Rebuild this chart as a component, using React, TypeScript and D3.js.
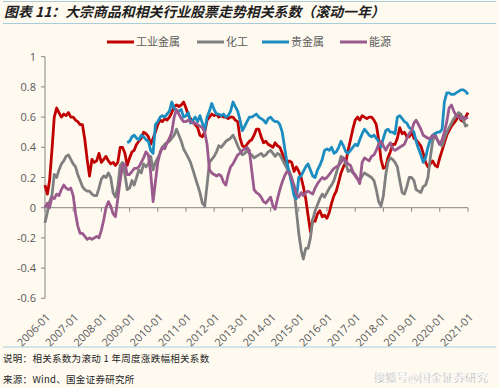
import * as d3 from 'd3';

// monthly readings, first point 2006-01
const START = new Date(2006, 0, 1);
const END = new Date(2021, 0, 1);

const metals = [
  0.15, 0.09, 0.18, 0.38, 0.6, 0.66, 0.63, 0.6, 0.62, 0.61, 0.63, 0.6,
  0.6, 0.58, 0.57, 0.55, 0.55, 0.45, 0.32, 0.21, 0.32, 0.3, 0.31, 0.36,
  0.3, 0.32, 0.34, 0.31, 0.29, 0.3, 0.28, 0.3, 0.4, 0.4, 0.36, 0.28,
  0.33, 0.37, 0.38, 0.42, 0.44, 0.46, 0.5, 0.49, 0.47, 0.42, 0.46, 0.5,
  0.55, 0.58, 0.57, 0.59, 0.58, 0.6, 0.63, 0.67, 0.68, 0.67, 0.68, 0.7,
  0.66, 0.61, 0.59, 0.57, 0.55, 0.53, 0.48, 0.47, 0.5, 0.58, 0.6, 0.62,
  0.61, 0.62, 0.6, 0.61, 0.6, 0.6, 0.59, 0.6, 0.6, 0.58, 0.57, 0.46,
  0.41, 0.4, 0.42, 0.44, 0.45, 0.48, 0.52, 0.52, 0.47, 0.43, 0.44, 0.42,
  0.41, 0.4, 0.43, 0.41, 0.4, 0.36, 0.32, 0.29, 0.31, 0.3, 0.24, 0.27,
  0.24, 0.2, 0.14, 0.06, -0.05, -0.16, -0.08, -0.09, -0.04, -0.02, -0.06, -0.05,
  -0.07, -0.03, 0.03, 0.08, 0.11, 0.17, 0.23, 0.27, 0.3, 0.38, 0.45, 0.52,
  0.58, 0.6, 0.58, 0.61, 0.6, 0.59, 0.6, 0.6, 0.58, 0.55, 0.45, 0.32,
  0.26, 0.27, 0.33, 0.37, 0.42, 0.42, 0.46, 0.53, 0.49, 0.5, 0.47, 0.47,
  0.5, 0.46, 0.45, 0.43, 0.41, 0.36, 0.3, 0.27, 0.29, 0.31, 0.28, 0.27,
  0.33, 0.38, 0.43, 0.48, 0.51, 0.54, 0.56, 0.58, 0.61, 0.58, 0.57, 0.6, 0.63,
];

const chemicals = [
  -0.1, -0.03, 0.04, 0.08, 0.22, 0.2, 0.25, 0.29, 0.31, 0.34, 0.35, 0.32,
  0.29, 0.27, 0.22, 0.18, 0.14, 0.12, 0.11, 0.11, 0.09, 0.08, 0.08, 0.13,
  0.19, 0.21, 0.2, 0.23, 0.2, 0.1, 0.07, 0.14, 0.28, 0.3, 0.22, 0.12,
  0.13, 0.18, 0.15, 0.2, 0.25, 0.23, 0.29, 0.27, 0.29, 0.34, 0.25, 0.3,
  0.33, 0.36, 0.4, 0.42, 0.43, 0.44, 0.46, 0.48, 0.52, 0.48, 0.44, 0.39,
  0.36, 0.33, 0.3, 0.25, 0.2, 0.15, 0.1, 0.03, 0.01, 0.15, 0.3, 0.32,
  0.34, 0.37, 0.41, 0.4, 0.42, 0.44, 0.45, 0.46, 0.48, 0.45, 0.41, 0.38,
  0.35, 0.36, 0.38, 0.36, 0.35, 0.33, 0.34, 0.35, 0.36, 0.34, 0.35, 0.37,
  0.38, 0.36, 0.34, 0.36, 0.35, 0.32, 0.29, 0.26, 0.24, 0.2, 0.12, -0.02,
  -0.17, -0.28, -0.34, -0.27, -0.27, -0.2, -0.08, -0.02, 0.02, 0.06, 0.09, 0.07,
  0.1, 0.13, 0.15, 0.18, 0.23, 0.28, 0.34, 0.33, 0.29, 0.24, 0.25, 0.23,
  0.22, 0.19, 0.18, 0.21, 0.23, 0.22, 0.21, 0.2, 0.18, 0.12, 0.04, 0.01,
  0.08, 0.22, 0.3, 0.33, 0.32, 0.3, 0.27, 0.18, 0.1, 0.09, 0.14, 0.2,
  0.2, 0.18, 0.12, 0.11, 0.1, 0.14, 0.15, 0.2, 0.33, 0.44, 0.49, 0.45,
  0.42, 0.41, 0.46, 0.5, 0.53, 0.56, 0.59, 0.61, 0.63, 0.62, 0.58, 0.54, 0.55,
];

// precious metals series begins later (index 35 = 2008-12)
const PRECIOUS_OFFSET = 35;
const precious = [
  0.43,
  0.44, 0.47, 0.48, 0.46, 0.45, 0.48, 0.47, 0.45, 0.44, 0.38, 0.36, 0.55,
  0.57, 0.6, 0.61, 0.6, 0.62, 0.64, 0.7, 0.66, 0.64, 0.64, 0.65, 0.6,
  0.61, 0.63, 0.56, 0.58, 0.6, 0.57, 0.61, 0.56, 0.51, 0.6, 0.64, 0.69,
  0.65, 0.62, 0.62, 0.61, 0.62, 0.6, 0.61, 0.64, 0.7, 0.67, 0.64, 0.58,
  0.51, 0.54, 0.57, 0.6, 0.6, 0.61, 0.62, 0.6, 0.59, 0.58, 0.56, 0.59,
  0.6, 0.58, 0.57, 0.57, 0.55, 0.5, 0.4, 0.3, 0.23, 0.16, 0.08, 0.06,
  0.2, 0.21, 0.24, 0.27, 0.29, 0.25, 0.21, 0.2, 0.25, 0.28, 0.32, 0.38,
  0.39, 0.38, 0.4, 0.36, 0.37, 0.4, 0.44, 0.41, 0.37, 0.36, 0.38, 0.4,
  0.42, 0.41, 0.45, 0.49, 0.52, 0.5, 0.48, 0.47, 0.48, 0.46, 0.44, 0.4,
  0.46, 0.51, 0.52, 0.5, 0.5, 0.49, 0.6, 0.61, 0.59, 0.57, 0.56, 0.53,
  0.52, 0.5, 0.44, 0.39, 0.35, 0.3, 0.33, 0.4, 0.45, 0.48, 0.49, 0.5,
  0.5, 0.52, 0.7, 0.76, 0.76, 0.75, 0.75, 0.76, 0.77, 0.78, 0.78, 0.77, 0.75,
];

const energy = [
  0.0, 0.03, 0.0, 0.07, 0.06, 0.09, 0.08, 0.12, 0.15, 0.13, 0.12, 0.13,
  0.08, -0.04, -0.12, -0.17, -0.17, -0.19, -0.21, -0.2, -0.21, -0.2, -0.19, -0.2,
  -0.15, -0.08, 0.0, 0.04, 0.01, -0.04, -0.06, 0.06, 0.18, 0.28, 0.29, 0.22,
  0.22, 0.24, 0.26, 0.26, 0.27, 0.3, 0.33, 0.37, 0.35, 0.23, 0.04, 0.17,
  0.3, 0.37, 0.4, 0.39, 0.43, 0.46, 0.5, 0.6, 0.65, 0.62, 0.59, 0.57,
  0.57, 0.58, 0.57, 0.56, 0.56, 0.55, 0.54, 0.53, 0.5, 0.42, 0.25, 0.23,
  0.22, 0.21, 0.22, 0.21, 0.17, 0.15, 0.22, 0.27, 0.29, 0.32, 0.35, 0.36,
  0.38, 0.39, 0.4, 0.38, 0.25, 0.12, 0.1, 0.09, 0.07, 0.04, 0.03, 0.05,
  0.07, 0.01, -0.01, 0.06, 0.12, 0.17, 0.21, 0.24, 0.23, 0.19, 0.15, 0.09,
  0.07, 0.1, 0.08, 0.1, 0.11, 0.1, 0.09, 0.13, 0.16, 0.18, 0.2, 0.19,
  0.2, 0.22, 0.24, 0.26, 0.27, 0.28, 0.3, 0.33, 0.31, 0.29, 0.28, 0.24,
  0.21, 0.19, 0.16, 0.3, 0.33, 0.32, 0.31, 0.34, 0.35, 0.38, 0.42, 0.44,
  0.41, 0.38, 0.41, 0.43, 0.39, 0.38, 0.39, 0.4, 0.41, 0.42, 0.46, 0.49,
  0.51, 0.56, 0.58, 0.55, 0.52, 0.48, 0.47, 0.46, 0.46, 0.48, 0.47, 0.45,
  0.42, 0.45, 0.5, 0.57, 0.66, 0.68, 0.64, 0.61, 0.6, 0.59, 0.6, 0.59, 0.6,
];

const seriesNames = ['工业金属', '化工', '贵金属', '能源'];
const seriesColors = ['#C00000', '#7F7F7F', '#1B8DC1', '#9B5A8D'];
const yTicks = [1, 0.8, 0.6, 0.4, 0.2, 0, -0.2, -0.4, -0.6];
const xTickYears = d3.range(2006, 2022);

const CJK = '"Noto Sans CJK SC", sans-serif';
const NUM = '"Open Sans", "Noto Sans", sans-serif';

export default function App() {
  const width = 499;
  const height = 388;

  const x = d3.scaleTime().domain([START, END]).range([45, 468]);
  const y = d3.scaleLinear().domain([-0.6, 1]).range([298.3, 56.7]);

  const monthDate = (i: number) => d3.timeMonth.offset(START, i);
  const toPoints = (vals: number[], offset = 0) =>
    vals.map((v, i) => ({ date: monthDate(i + offset), v }));

  const series = [
    toPoints(metals),
    toPoints(chemicals),
    toPoints(precious, PRECIOUS_OFFSET),
    toPoints(energy),
  ];

  const line = d3
    .line<{ date: Date; v: number }>()
    .x((d) => x(d.date))
    .y((d) => y(d.v));

  const legendX = [107, 197, 262, 340];

  return (
    <svg
      width={width}
      height={height}
      style={{ position: 'absolute', left: 0, top: 0, background: '#FEFAF0' }}
    >
      <rect x={0} y={0} width={width} height={height} fill="#FEFAF0" />
      <line x1={3} x2={496} y1={1.5} y2={1.5} stroke="#A9CCDB" strokeWidth={1} />
      <text
        x={4}
        y={17}
        fontFamily={CJK}
        fontSize={13.9}
        fontWeight={700}
        fontStyle="italic"
        fill="#1f1f1f"
      >
        图表 11：大宗商品和相关行业股票走势相关系数（滚动一年）
      </text>
      <line x1={3} x2={496} y1={23.5} y2={23.5} stroke="#A9CCDB" strokeWidth={1.2} />

      {/* legend */}
      {seriesNames.map((n, i) => (
        <g key={n}>
          <line
            x1={legendX[i]}
            x2={legendX[i] + 27}
            y1={42}
            y2={42}
            stroke={seriesColors[i]}
            strokeWidth={3}
          />
          <text
            x={legendX[i] + 29}
            y={46}
            fontFamily={CJK}
            fontSize={11}
            fill="#595959"
          >
            {n}
          </text>
        </g>
      ))}

      {/* y axis */}
      <line x1={45} x2={45} y1={y(1)} y2={y(-0.6)} stroke="#868686" strokeWidth={1} />
      {yTicks.map((t) => (
        <g key={t}>
          <line x1={41} x2={45} y1={y(t)} y2={y(t)} stroke="#868686" strokeWidth={1} />
          <text
            x={36}
            y={y(t) + 4}
            textAnchor="end"
            fontFamily={NUM}
            fontSize={11}
            fill="#595959"
          >
            {t}
          </text>
        </g>
      ))}

      {/* x axis at zero */}
      <line x1={45} x2={468} y1={y(0)} y2={y(0)} stroke="#868686" strokeWidth={1} />
      {xTickYears.map((yr) => {
        const tx = x(new Date(yr, 0, 1));
        return (
          <g key={yr}>
            <line x1={tx} x2={tx} y1={y(0)} y2={y(0) + 4} stroke="#868686" strokeWidth={1} />
            <text
              transform={`translate(${tx + 6},${318}) rotate(-45)`}
              textAnchor="end"
              fontFamily={NUM}
              fontSize={11}
              fill="#595959"
            >
              {`${yr}-01`}
            </text>
          </g>
        );
      })}

      {/* series */}
      {series.map((pts, i) => (
        <path
          key={seriesNames[i]}
          d={line(pts) || ''}
          fill="none"
          stroke={seriesColors[i]}
          strokeWidth={2.8}
          strokeLinejoin="round"
        />
      ))}

      <line x1={3} x2={496} y1={347} y2={347} stroke="#A9CCDB" strokeWidth={1.2} />
      <text x={3} y={362} fontFamily={CJK} fontSize={9.5} fill="#1f1f1f" letterSpacing={0.3}>
        说明：相关系数为滚动 1 年周度涨跌幅相关系数
      </text>
      <text x={3} y={383} fontFamily={CJK} fontSize={9.5} fill="#1f1f1f" letterSpacing={0.3}>
        来源：Wind、国金证券研究所
      </text>
      <text
        x={488}
        y={382}
        textAnchor="end"
        fontFamily={CJK}
        fontSize={11.5}
        fill="#8c8c8c"
        stroke="#ffffff"
        strokeWidth={0.4}
      >
        搜狐号@国金证券研究
      </text>
    </svg>
  );
}
